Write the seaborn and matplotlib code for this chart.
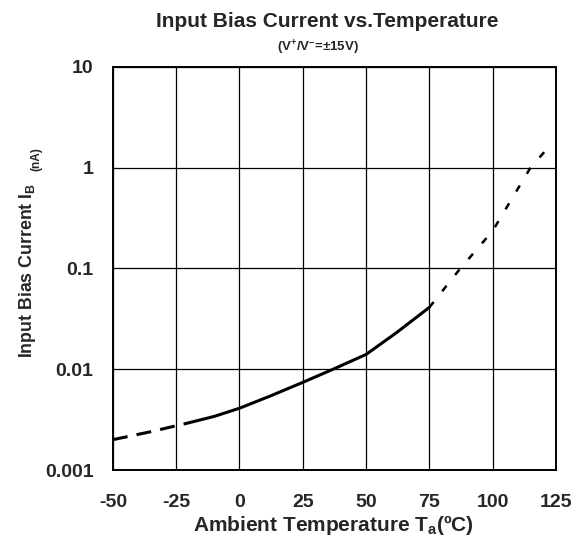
import seaborn as sns
import matplotlib.pyplot as plt

# curve: dashed (extrapolated) ends, solid middle
lo_temp = [-50, -35, -21]
lo_ib = [0.0020, 0.0024, 0.0029]
mid_temp = [-21, -10, 0, 12, 25, 37, 50, 62, 75]
mid_ib = [0.0029, 0.0034, 0.0041, 0.0054, 0.0074, 0.0100, 0.0140, 0.023, 0.041]
hi_temp = [75, 87, 100, 115, 121]
hi_ib = [0.041, 0.098, 0.235, 1.0, 1.48]

x_ticks = [-50, -25, 0, 25, 50, 75, 100, 125]
y_ticks = [0.001, 0.01, 0.1, 1, 10]
y_labels = ['0.001', '0.01', '0.1', '1', '10']

sns.set_style('white')
plt.rcParams['font.family'] = ['Liberation Sans', 'DejaVu Sans']
plt.rcParams['font.weight'] = 'bold'
plt.rcParams['mathtext.fontset'] = 'custom'
plt.rcParams['mathtext.rm'] = 'Liberation Sans:bold'
plt.rcParams['mathtext.it'] = 'Liberation Sans:bold'
plt.rcParams['mathtext.bf'] = 'Liberation Sans:bold'

fig = plt.figure(figsize=(5.82, 5.39), dpi=100)
ax = fig.add_axes([0.194, 0.128, 0.761, 0.748])

sns.lineplot(x=lo_temp, y=lo_ib, ax=ax, color='black', lw=2.2)
sns.lineplot(x=mid_temp, y=mid_ib, ax=ax, color='black', lw=2.2)
sns.lineplot(x=hi_temp, y=hi_ib, ax=ax, color='black', lw=1.8)
ax.lines[0].set_dashes([4.9, 3.0])
ax.lines[2].set_dashes([2.8, 5.5])

ax.set_yscale('log')
ax.set_xlim(-50, 125)
ax.set_ylim(0.001, 10)
ax.set_xticks(x_ticks)
ax.set_xticklabels([str(t) for t in x_ticks])
ax.set_yticks(y_ticks)
ax.set_yticklabels(y_labels)
ax.minorticks_off()
ax.grid(True, color='black', lw=0.9)
for s in ax.spines.values():
    s.set_color('black')
    s.set_linewidth(1.4)
ax.tick_params(axis='both', length=0, labelsize=14)
ax.tick_params(axis='x', pad=17)
ax.tick_params(axis='y', pad=14)

fig.text(333 / 582, 0.014, 'Ambient Temperature T$_{a}$(ºC)', fontsize=15,
         fontweight='bold', ha='center', va='baseline')
fig.text(28 / 582, 1 - 358 / 539, 'Input Bias Current I$_{B}$', rotation=90,
         fontsize=12.8, fontweight='bold', ha='center', va='bottom')
fig.text(36.5 / 582, 1 - 171 / 539, '(nA)', rotation=90, fontsize=8.6,
         fontweight='bold', ha='center', va='bottom')

fig.text(327 / 582, 1 - 27 / 539, 'Input Bias Current vs.Temperature',
         fontsize=15, fontweight='bold', ha='center', va='baseline')
fig.text(318 / 582, 1 - 52 / 539, '(V$^{+}$/V$^{-}$=±15V)', fontsize=9.5,
         fontweight='bold', ha='center', va='baseline')

fig.savefig('out.png', dpi=100)
